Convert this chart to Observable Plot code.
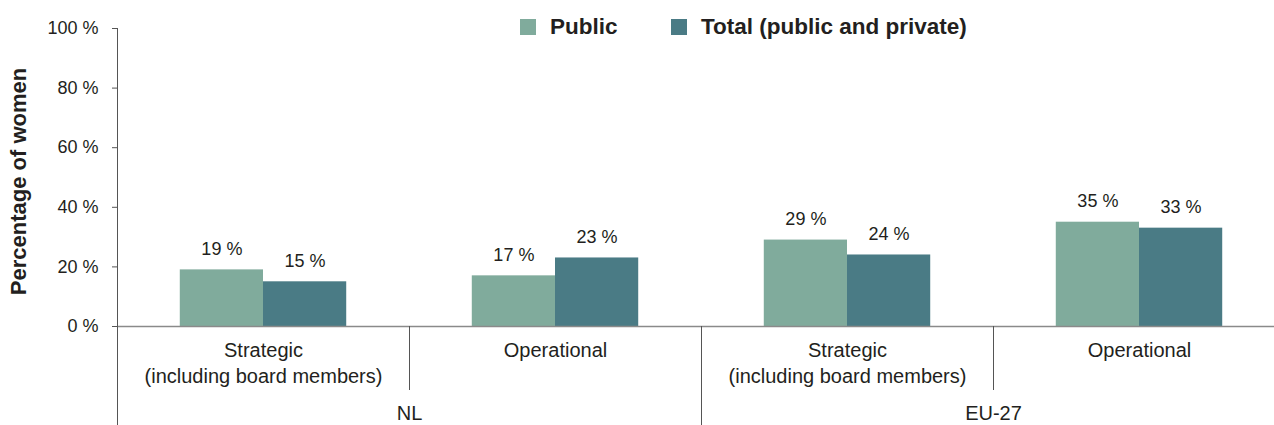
<!DOCTYPE html>
<html>
<head>
<meta charset="utf-8">
<script src="https://cdn.jsdelivr.net/npm/d3@7"></script>
<script src="https://cdn.jsdelivr.net/npm/@observablehq/plot@0.6"></script>
<style>
  html, body { margin: 0; padding: 0; background: #fff; overflow: hidden; }
  #wrap { position: relative; width: 1274px; height: 425px; overflow: hidden; font-family: "Liberation Sans", Arial, sans-serif; color: #231f20; }
  .legend-item { position: absolute; top: 15px; height: 24px; display: flex; align-items: center; font-weight: bold; font-size: 22.5px; }
  .legend-swatch { width: 16px; height: 16px; margin-right: 14px; }
</style>
</head>
<body>
<div id="wrap"></div>
<script>
// ---- data ----
const categories = ["Strategic\n(including board members)", "Operational", "Strategic\n(including board members)", "Operational"];
const countries = ["NL", "NL", "EU-27", "EU-27"];
const countryNames = ["NL", "EU-27"];
const publicValues = [19, 17, 29, 35];
const totalValues = [15, 23, 24, 33];
const seriesNames = ["Public", "Total (public and private)"];
const seriesColors = ["#80ab9c", "#4a7b85"];
const yTicks = [0, 20, 40, 60, 80, 100];
const yTitle = "Percentage of women";

// ---- derived tables ----
const barWidth = 0.285; // fraction of a category slot
const rows = [];
categories.forEach((c, i) => {
  rows.push({i, category: c, country: countries[i], series: seriesNames[0], value: publicValues[i], side: -1});
  rows.push({i, category: c, country: countries[i], series: seriesNames[1], value: totalValues[i], side: 1});
});
const slots = categories.map((c, i) => ({i, category: c, country: countries[i]}));
const countrySpans = countryNames.map(name => {
  const idx = slots.filter(s => s.country === name).map(s => s.i);
  return {name, start: d3.min(idx), end: d3.max(idx) + 1};
});
const majorBounds = countrySpans.map(s => s.start);
const minorBounds = slots.map(s => s.i).filter(i => !majorBounds.includes(i));

const textColor = "#231f20";
const font = "'Liberation Sans', Arial, sans-serif";

const chart = Plot.plot({
  width: 1274,
  height: 425,
  marginLeft: 117,
  marginRight: 0,
  marginTop: 28,
  marginBottom: 99,
  style: {fontFamily: font, fontSize: "18px", color: textColor, background: "#fff", overflow: "visible"},
  x: {type: "linear", domain: [0, categories.length], range: [117, 117 + 292 * categories.length], axis: null},
  y: {domain: [0, 100], axis: null},
  color: {domain: seriesNames, range: seriesColors},
  marks: [
    Plot.rectY(rows, {
      x1: d => d.i + 0.5 + (d.side < 0 ? -barWidth : 0),
      x2: d => d.i + 0.5 + (d.side < 0 ? 0 : barWidth),
      y1: 0,
      y2: "value",
      fill: "series"
    }),
    Plot.text(rows, {
      x: d => d.i + 0.5 + d.side * barWidth / 2,
      y: "value",
      text: d => d.value + " %",
      dy: -21,
      lineAnchor: "middle",
      fill: textColor,
      fontSize: 18
    }),
    Plot.ruleY([0], {stroke: "#8a8a8a", strokeWidth: 1.6}),
    Plot.axisY({
      ticks: yTicks,
      tickFormat: d => d + " %",
      tickSize: 5,
      tickPadding: 14,
      stroke: "#555",
      fill: textColor,
      fontSize: 18,
      label: null
    }),
    Plot.ruleX(majorBounds, {x: d => d, stroke: "#555", strokeWidth: 1, y1: d => d === 0 ? 100 : 0, y2: 0, insetBottom: -99}),
    Plot.ruleX(minorBounds, {x: d => d, stroke: "#555", strokeWidth: 1, y1: 0, y2: 0, insetBottom: -64}),
    Plot.text(slots, {
      x: d => d.i + 0.5,
      y: 0,
      text: "category",
      dy: 12,
      lineAnchor: "top",
      lineHeight: 1.3,
      fill: textColor,
      fontSize: 20
    }),
    Plot.text(countrySpans, {
      x: d => (d.start + d.end) / 2,
      y: 0,
      text: "name",
      dy: 87,
      lineAnchor: "middle",
      fill: textColor,
      fontSize: 20
    }),
    Plot.text([yTitle], {
      frameAnchor: "left",
      textAnchor: "middle",
      lineAnchor: "middle",
      dx: -99,
      dy: 4,
      rotate: -90,
      text: d => d,
      fontWeight: "bold",
      fontSize: 22,
      fill: textColor
    })
  ]
});
chart.style.maxWidth = "none";
const wrap = document.getElementById("wrap");
wrap.appendChild(chart);

// legend
const legendLefts = [520, 671];
seriesNames.forEach((name, k) => {
  const item = document.createElement("div");
  item.className = "legend-item";
  item.style.left = legendLefts[k] + "px";
  const sw = document.createElement("div");
  sw.className = "legend-swatch";
  sw.style.background = seriesColors[k];
  const label = document.createElement("span");
  label.textContent = name;
  item.appendChild(sw);
  item.appendChild(label);
  wrap.appendChild(item);
});
</script>
</body>
</html>
